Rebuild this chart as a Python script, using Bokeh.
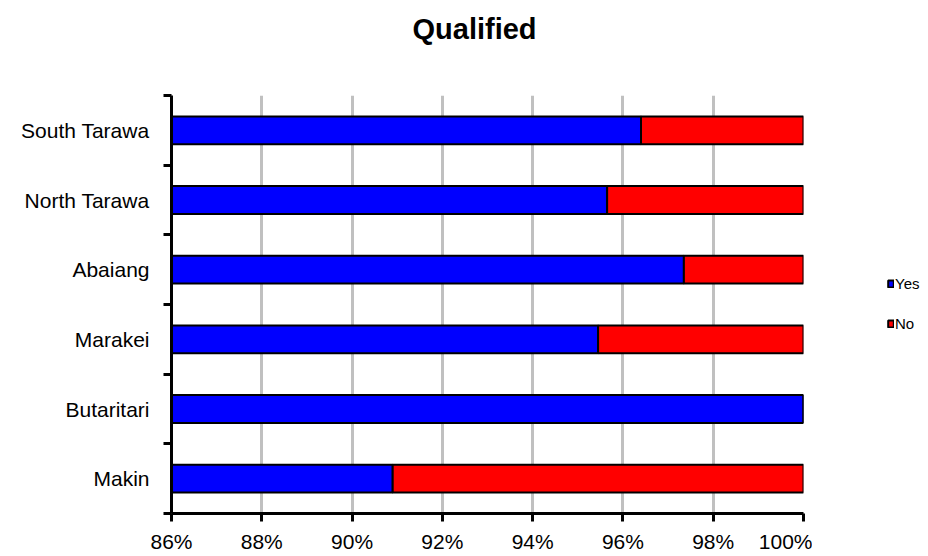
from bokeh.plotting import figure
from bokeh.layouts import row
from bokeh.models import FixedTicker, Legend, LegendItem, ColumnDataSource, Range1d, Title
from bokeh.embed import file_html
from bokeh.resources import INLINE

categories = ["Makin", "Butaritari", "Marakei", "Abaiang", "North Tarawa", "South Tarawa"]
yes_pct = [90.9, 100.0, 95.45, 97.35, 95.65, 96.4]
no_pct = [9.1, 0.0, 4.55, 2.65, 4.35, 3.6]
x_ticks = [86, 88, 90, 92, 94, 96, 98, 100]
x_start = 86
series = ["Yes", "No"]
colors = ["#0000FF", "#FF0000"]
title_text = "Qualified"

FONT = "Liberation Sans"
H = 556
FRAME_BOTTOM = 513

ypos = [i + 0.5 for i in range(len(categories))]
yes_left = [x_start] * len(categories)
no_left = yes_pct
no_right = [y + n for y, n in zip(yes_pct, no_pct)]

src = ColumnDataSource(dict(y=ypos, yl=yes_left, yr=yes_pct, nl=no_left, nr=no_right))

p = figure(width=812, height=H, output_backend="svg", toolbar_location=None, title=None,
           x_range=Range1d(86, 100), y_range=Range1d(0, len(categories)),
           min_border_left=171, min_border_right=9, min_border_top=95,
           min_border_bottom=H - FRAME_BOTTOM)
p.outline_line_color = None

# spacer title (nearest the frame) pushes the real title up
p.add_layout(Title(text=" ", text_font_size="10px", standoff=38), "above")
p.add_layout(Title(text=title_text, text_font=FONT, text_font_size="29px",
                   text_font_style="bold", text_color="black", align="left",
                   offset=241, standoff=0), "above")

r_yes = p.hbar(y="y", left="yl", right="yr", height=0.4, source=src,
               fill_color=colors[0], line_color="black", line_width=2)
r_no = p.hbar(y="y", left="nl", right="nr", height=0.4, source=src,
              fill_color=colors[1], line_color="black", line_width=2)

# x axis
p.xaxis.ticker = FixedTicker(ticks=x_ticks)
p.xaxis.major_label_overrides = {t: f"{t}%" for t in x_ticks}
p.xaxis.axis_line_width = 3
p.xaxis.axis_line_color = "black"
p.xaxis.major_tick_line_width = 3
p.xaxis.major_tick_line_color = "black"
p.xaxis.major_tick_out = 8
p.xaxis.major_tick_in = 0
p.xaxis.minor_tick_line_color = None
p.xaxis.major_label_text_font = FONT
p.xaxis.major_label_text_font_size = "21px"
p.xaxis.major_label_text_color = "black"
p.xaxis.major_label_standoff = 8

# y axis
p.yaxis.ticker = FixedTicker(ticks=ypos, minor_ticks=list(range(len(categories) + 1)))
p.yaxis.major_label_overrides = {y: c for y, c in zip(ypos, categories)}
p.yaxis.axis_line_width = 3
p.yaxis.axis_line_color = "black"
p.yaxis.major_tick_line_color = None
p.yaxis.major_tick_out = 0
p.yaxis.major_tick_in = 0
p.yaxis.minor_tick_line_width = 3
p.yaxis.minor_tick_line_color = "black"
p.yaxis.minor_tick_out = 8
p.yaxis.minor_tick_in = 0
p.yaxis.major_label_text_font = FONT
p.yaxis.major_label_text_font_size = "21px"
p.yaxis.major_label_text_color = "black"
p.yaxis.major_label_standoff = 14

p.xgrid.ticker = FixedTicker(ticks=x_ticks)
p.xgrid.grid_line_color = "#c0c0c0"
p.xgrid.grid_line_width = 3
p.ygrid.grid_line_color = None

# legend panel
lg = figure(width=108, height=H, output_backend="svg", toolbar_location=None,
            x_range=Range1d(0, 1), y_range=Range1d(0, 1),
            min_border=0, min_border_left=0, min_border_right=0,
            min_border_top=0, min_border_bottom=0)
lg.axis.visible = False
lg.grid.visible = False
lg.outline_line_color = None
offscreen = ColumnDataSource(dict(x=[5], y=[5]))
d_yes = lg.rect(x="x", y="y", width=1, height=1, source=offscreen,
                fill_color=colors[0], line_color="black", line_width=2)
d_no = lg.rect(x="x", y="y", width=1, height=1, source=offscreen,
               fill_color=colors[1], line_color="black", line_width=2)
legend = Legend(items=[LegendItem(label=series[0], renderers=[d_yes]),
                       LegendItem(label=series[1], renderers=[d_no])],
                location=(75, FRAME_BOTTOM - 332), orientation="vertical",
                glyph_width=7, glyph_height=9, label_text_font=FONT,
                label_text_font_size="15px", label_text_color="black",
                label_standoff=1, spacing=23, label_height=16,
                border_line_color=None, background_fill_alpha=0, padding=0, margin=0)
lg.add_layout(legend, "center")

layout = row(p, lg)
open("out.html", "w").write(file_html(layout, INLINE))
